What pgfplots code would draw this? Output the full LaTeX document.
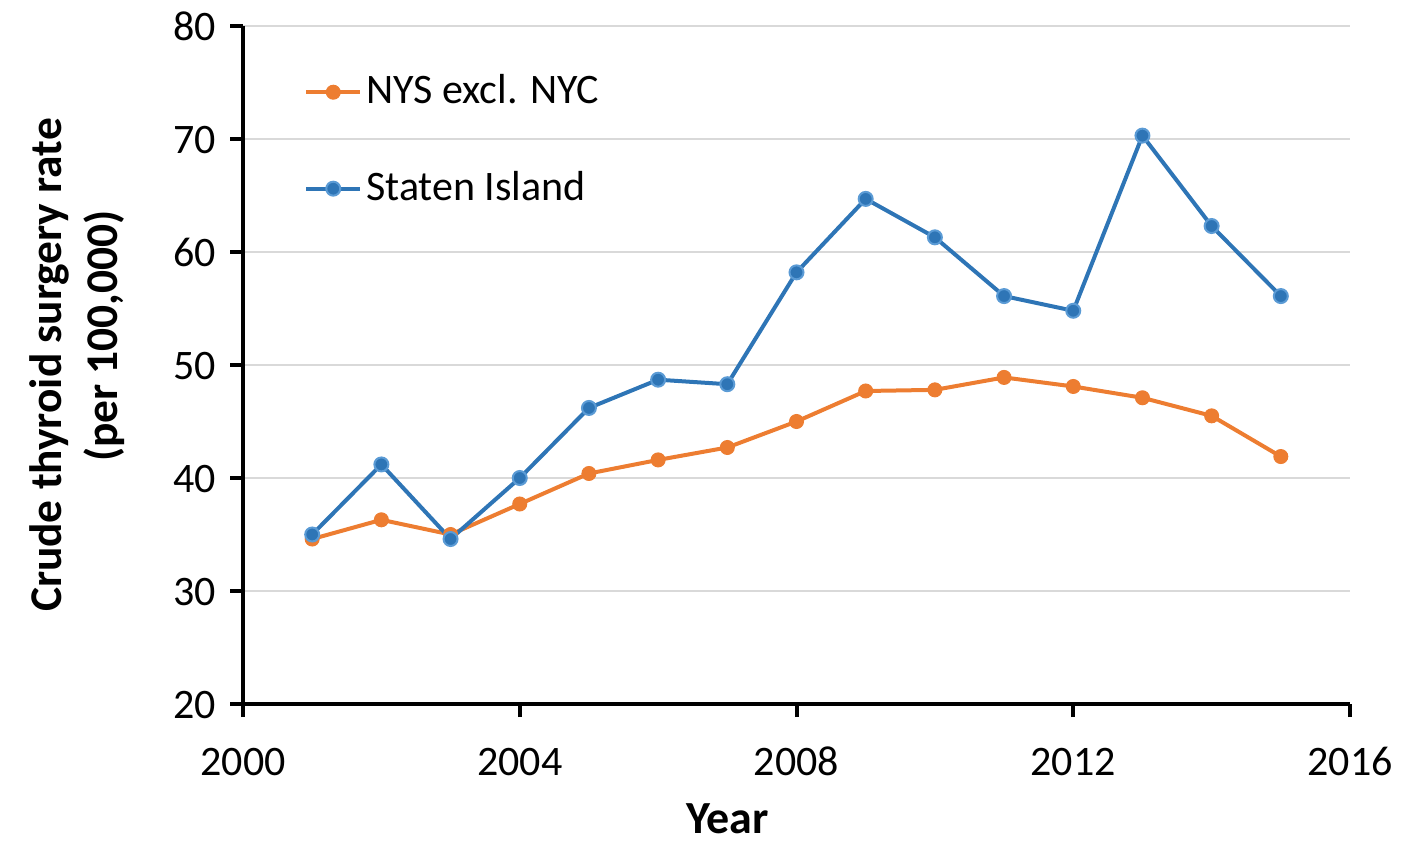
\documentclass[border=0pt]{standalone}
\usepackage{fontspec}
\setmainfont{Carlito}
\usepackage{pgfplots}
\pgfplotsset{compat=1.18}
\definecolor{sblue}{HTML}{2E75B6}
\definecolor{sblueedge}{HTML}{5B9BD5}
\definecolor{sorange}{HTML}{ED7D31}
\definecolor{gridgray}{HTML}{D9D9D9}
\begin{document}
\fontsize{21pt}{25pt}\selectfont
\begin{tikzpicture}
\useasboundingbox (-121.5pt,-68.5pt) rectangle (584.5pt,352pt);
\begin{axis}[
  at={(0,0)}, anchor=south west,
  scale only axis, width=553.5pt, height=339pt,
  xmin=2000, xmax=2016, ymin=20, ymax=80,
  xtick={2000,2004,2008,2012,2016},
  ytick={20,30,40,50,60,70,80},
  axis x line*=bottom, axis y line*=left,
  axis line style={line width=2pt, black},
  tick align=outside, major tick length=6.5pt,
  tick style={line width=2pt, black},
  ymajorgrids, grid style={line width=1pt, gridgray},
  /pgf/number format/assume math mode=true,
  /pgf/number format/1000 sep={},
  tick label style={font=\fontsize{21pt}{25pt}\selectfont},
  x tick label style={yshift=-8pt, text height=14pt, text depth=0pt},
  y tick label style={text height=14pt, text depth=0pt},
  xlabel={Year},
  ylabel={Crude thyroid surgery rate\\\hspace*{29pt}(per 100,000)},
  xlabel style={at={(axis description cs:0.4375,-0.1915)}, anchor=base, inner sep=0pt, font=\bfseries\fontsize{23pt}{27pt}\selectfont},
  ylabel style={at={(axis description cs:-0.1495,0.5)}, anchor=center, align=center, font=\bfseries\fontsize{22.7pt}{28pt}\selectfont},
  legend style={draw=none, fill=none, at={(axis description cs:0.055,0.935)}, anchor=north west, row sep=26.5pt, font=\fontsize{21pt}{25pt}\selectfont, inner sep=0pt},
  legend cell align=left,
  legend image code/.code={\draw[mark repeat=2,mark phase=2,#1] plot coordinates {(0pt,0pt) (13.5pt,0pt) (27pt,0pt)};},
]
\addplot[sorange, line width=2pt, mark=*, mark size=3.5pt, mark options={fill=sorange, draw=sorange, line width=0.5pt}] coordinates {
(2001,34.6) (2002,36.3) (2003,35.0) (2004,37.7) (2005,40.4) (2006,41.6) (2007,42.7) (2008,45.0) (2009,47.7) (2010,47.8) (2011,48.9) (2012,48.1) (2013,47.1) (2014,45.5) (2015,41.9)};
\addlegendentry{NYS excl. NYC}
\addplot[sblue, line width=2pt, mark=*, mark size=3.5pt, mark options={fill=sblue, draw=sblueedge, line width=1pt}] coordinates {
(2001,35.0) (2002,41.2) (2003,34.6) (2004,40.0) (2005,46.2) (2006,48.7) (2007,48.3) (2008,58.2) (2009,64.7) (2010,61.3) (2011,56.1) (2012,54.8) (2013,70.3) (2014,62.3) (2015,56.1)};
\addlegendentry{Staten Island}
\end{axis}
\end{tikzpicture}
\end{document}
